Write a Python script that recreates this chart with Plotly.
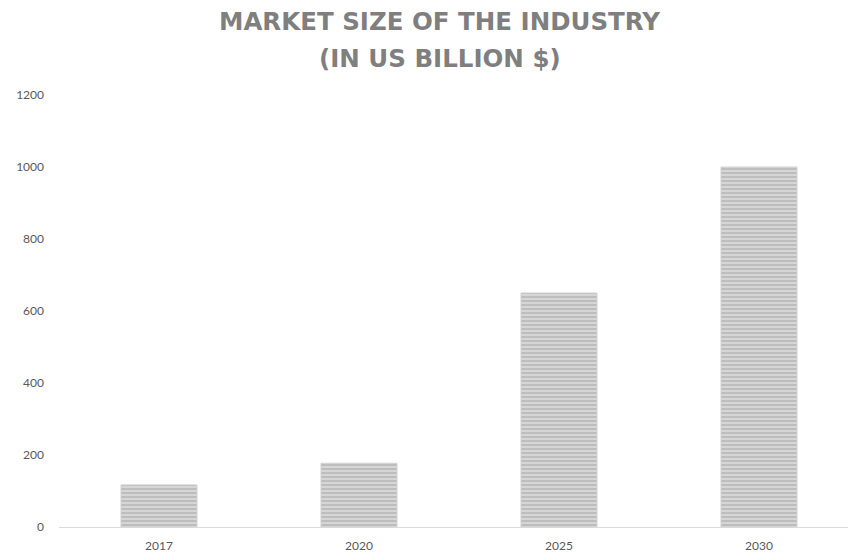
import plotly.graph_objects as go

years = ["2017", "2020", "2025", "2030"]
market_size = [117, 177, 650, 1000]
y_ticks = [0, 200, 400, 600, 800, 1000, 1200]
title_lines = ["MARKET SIZE OF THE INDUSTRY", "(IN US BILLION $)"]

W, H = 848, 557
L, R, T, B = 59, 0, 95, 30
PW, PH = W - L - R, H - T - B

fig = go.Figure()
fig.add_trace(go.Bar(
    x=years, y=market_size, width=0.38,
    marker=dict(
        color="#c8c8c8",
        line=dict(color="#d0d0d0", width=1),
        pattern=dict(shape="-", bgcolor="#d6d6d6", fgcolor="#a3a3a3", size=4, solidity=0.5),
    ),
    hoverinfo="skip",
))

for line, yc in zip(title_lines, [21, 58]):
    fig.add_annotation(
        text="<b>" + line + "</b>",
        xref="paper", yref="paper",
        x=(439.5 - L) / PW, xanchor="center",
        y=1 + (T - yc) / PH, yanchor="middle",
        showarrow=False, align="center",
        font=dict(family="DejaVu Sans", size=24.5, color="#7f7f7f"),
    )

fig.update_layout(
    width=W, height=H,
    margin=dict(l=L, r=R, t=T, b=B, pad=0),
    paper_bgcolor="white", plot_bgcolor="white",
    showlegend=False,
    xaxis=dict(
        type="category", range=[-0.5, 3.445],
        showline=True, linecolor="#d9d9d9", linewidth=1,
        showgrid=False, ticks="outside", ticklen=8, tickcolor="rgba(0,0,0,0)", zeroline=False,
        tickfont=dict(family="Lato", size=12, color="#595959"),
    ),
    yaxis=dict(
        range=[0, 1200], tickvals=y_ticks,
        showgrid=False, zeroline=False, showline=False, ticks="",
        ticklabelstandoff=14,
        tickfont=dict(family="Lato", size=12, color="#595959"),
    ),
)

fig.write_html("out.html")
